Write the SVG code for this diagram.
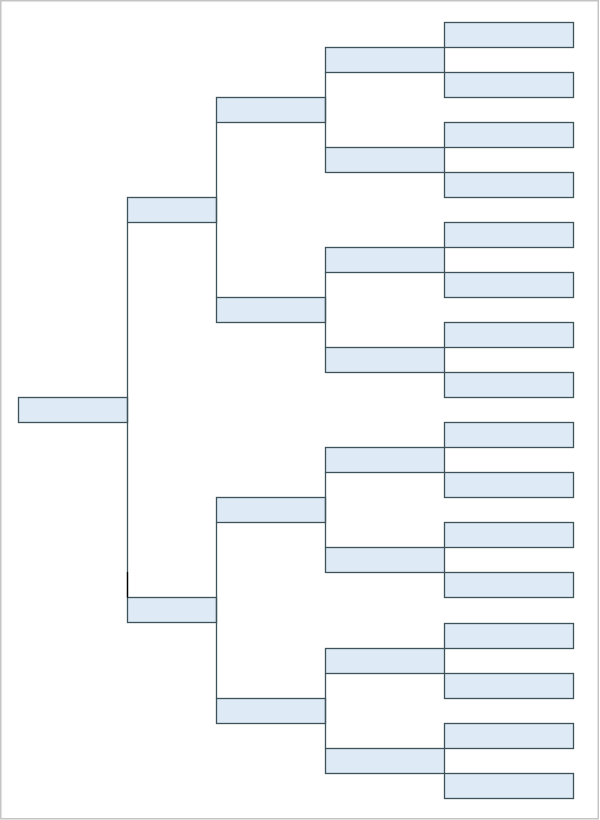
<svg xmlns="http://www.w3.org/2000/svg" width="600" height="820" viewBox="0 0 600 820">
  <style>
    .box { fill: #dfeaf7; stroke: #3d5259; stroke-width: 1.3; }
    .conn { fill: none; stroke: #3d5259; stroke-width: 1.3; }
    .page { fill: #ffffff; stroke: #c4c4c4; stroke-width: 1.5; }
  </style>
  <rect class="page" x="0.75" y="0.75" width="597.5" height="818"/>

  <g id="root"><rect class="box" x="18.5" y="397.5" width="109" height="25"/></g>

  <g id="gen1">
    <rect id="n1a" class="box" x="127.5" y="197.5" width="89" height="25"/>
    <rect id="n1b" class="box" x="127.5" y="597.5" width="89" height="25"/>
  </g>

  <g id="gen2">
    <rect id="n2a" class="box" x="216.5" y="97.5" width="109" height="25"/>
    <rect id="n2b" class="box" x="216.5" y="297.5" width="109" height="25"/>
    <rect id="n2c" class="box" x="216.5" y="497.5" width="109" height="25"/>
    <rect id="n2d" class="box" x="216.5" y="698.5" width="109" height="25"/>
  </g>

  <g id="gen3">
    <rect id="n3a" class="box" x="325.5" y="47.5" width="119" height="25"/>
    <rect id="n3b" class="box" x="325.5" y="147.5" width="119" height="25"/>
    <rect id="n3c" class="box" x="325.5" y="247.5" width="119" height="25"/>
    <rect id="n3d" class="box" x="325.5" y="347.5" width="119" height="25"/>
    <rect id="n3e" class="box" x="325.5" y="447.5" width="119" height="25"/>
    <rect id="n3f" class="box" x="325.5" y="547.5" width="119" height="25"/>
    <rect id="n3g" class="box" x="325.5" y="648.5" width="119" height="25"/>
    <rect id="n3h" class="box" x="325.5" y="748.5" width="119" height="25"/>
  </g>

  <g id="gen4">
    <rect id="n4a" class="box" x="444.5" y="22.5" width="129" height="25"/>
    <rect id="n4b" class="box" x="444.5" y="72.5" width="129" height="25"/>
    <rect id="n4c" class="box" x="444.5" y="122.5" width="129" height="25"/>
    <rect id="n4d" class="box" x="444.5" y="172.5" width="129" height="25"/>
    <rect id="n4e" class="box" x="444.5" y="222.5" width="129" height="25"/>
    <rect id="n4f" class="box" x="444.5" y="272.5" width="129" height="25"/>
    <rect id="n4g" class="box" x="444.5" y="322.5" width="129" height="25"/>
    <rect id="n4h" class="box" x="444.5" y="372.5" width="129" height="25"/>
    <rect id="n4i" class="box" x="444.5" y="422.5" width="129" height="25"/>
    <rect id="n4j" class="box" x="444.5" y="472.5" width="129" height="25"/>
    <rect id="n4k" class="box" x="444.5" y="522.5" width="129" height="25"/>
    <rect id="n4l" class="box" x="444.5" y="572.5" width="129" height="25"/>
    <rect id="n4m" class="box" x="444.5" y="623.5" width="129" height="25"/>
    <rect id="n4n" class="box" x="444.5" y="673.5" width="129" height="25"/>
    <rect id="n4o" class="box" x="444.5" y="723.5" width="129" height="25"/>
    <rect id="n4p" class="box" x="444.5" y="773.5" width="129" height="25"/>
  </g>

  <g id="connectors">
    <path class="conn" d="M127.5 222.5 V597.5"/>
    <path class="conn" d="M216.5 122.5 V297.5 M216.5 522.5 V698.5"/>
    <path class="conn" d="M325.5 72.5 V147.5 M325.5 272.5 V347.5 M325.5 472.5 V547.5 M325.5 673.5 V748.5"/>
    <path d="M127.5 572 V597.5" fill="none" stroke="#000000" stroke-width="1.3"/>
  </g>
</svg>
